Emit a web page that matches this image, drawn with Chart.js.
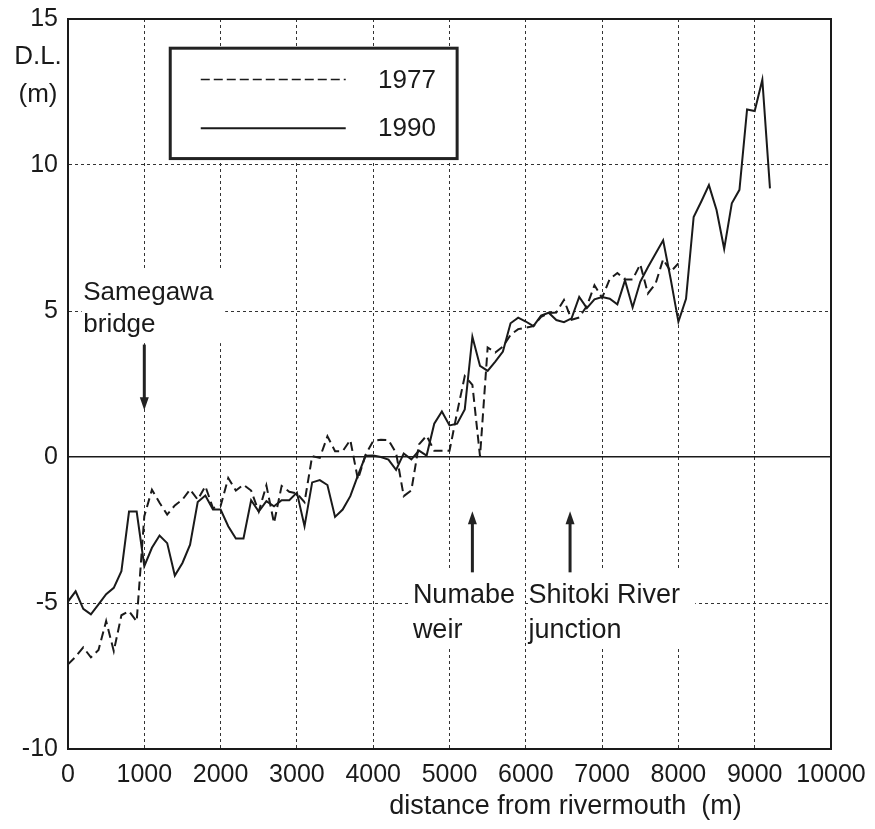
<!DOCTYPE html>
<html><head><meta charset="utf-8">
<script src="https://cdn.jsdelivr.net/npm/chart.js@4/dist/chart.umd.min.js"></script>
<style>html,body{margin:0;padding:0;background:#fff;}#wrap{width:875px;height:829px;}</style>
</head><body><div id="wrap"><canvas id="c" width="875" height="829"></canvas></div>
<script>
// distance from rivermouth (m)
const distances = [0,100,200,300,400,500,600,700,800,900,1000,1100,1200,1300,1400,1500,1600,1700,1800,1900,
2000,2100,2200,2300,2400,2500,2600,2700,2800,2900,3000,3100,3200,3300,3400,3500,3600,3700,3800,3900,
4000,4100,4200,4300,4400,4500,4600,4700,4800,4900,5000,5100,5200,5300,5400,5500,5600,5700,5800,5900,
6000,6100,6200,6300,6400,6500,6600,6700,6800,6900,7000,7100,7200,7300,7400,7500,7600,7700,7800,7900,
8000,8100,8200,8300,8400,8500,8600,8700,8800,8900,9000,9100,9200];
// riverbed elevation D.L. (m), 1977 survey (dashed)
const elev1977 = [-7.1,-6.84,-6.52,-6.86,-6.61,-5.62,-6.65,-5.42,-5.28,-5.63,
-2.03,-1.12,-1.57,-1.97,-1.66,-1.46,-1.11,-1.46,-1.0,-1.75,
-1.68,-0.72,-1.15,-0.95,-1.15,-1.87,-0.97,-2.26,-0.99,-1.19,
-1.25,-1.55,0.03,-0.03,0.71,0.2,0.2,0.58,-0.77,0.08,
0.55,0.59,0.58,0.14,-1.34,-1.14,0.43,0.73,0.21,0.21,
0.21,1.53,2.77,2.47,0.02,3.75,3.58,3.78,4.18,4.38,
4.43,4.48,4.8,4.93,4.95,5.38,4.7,4.78,5.17,5.88,
5.45,6.1,6.3,6.08,6.08,6.6,5.6,5.93,6.77,6.35,6.63];
// riverbed elevation D.L. (m), 1990 survey (solid)
const elev1990 = [-4.95,-4.6,-5.2,-5.39,-5.05,-4.7,-4.48,-3.91,-1.87,-1.87,
-3.74,-3.11,-2.69,-2.95,-4.06,-3.63,-3.0,-1.54,-1.32,-1.8,
-1.8,-2.37,-2.79,-2.79,-1.48,-1.87,-1.51,-1.69,-1.48,-1.48,
-1.22,-2.37,-0.87,-0.79,-0.96,-2.05,-1.8,-1.34,-0.63,0.04,
0.05,0.0,-0.09,-0.44,0.12,-0.08,0.22,0.05,1.14,1.56,
1.08,1.14,1.63,4.12,3.12,2.95,3.27,3.61,4.58,4.77,
4.64,4.48,4.84,4.94,4.69,4.62,4.75,5.48,5.1,5.4,
5.48,5.42,5.23,6.05,5.12,6.0,6.5,6.96,7.42,6.08,
4.63,5.42,8.22,8.75,9.31,8.46,7.13,8.69,9.15,11.9,
11.85,12.92,9.2];
const seriesNames = ['1977','1990'];
const xTicks = [0,1000,2000,3000,4000,5000,6000,7000,8000,9000,10000];
const yTicks = [-10,-5,0,5,10,15];

const FONT = '"Liberation Sans", Arial, Helvetica, sans-serif';
const INK = '#1a1a1a';

function pts(vals){ return vals.map((v,i)=>({x:distances[i], y:v})); }

const deco = {
  id:'deco',
  beforeDatasetsDraw(chart){
    const {ctx, chartArea:a, scales:{x,y}} = chart;
    ctx.save();
    // frame
    ctx.strokeStyle = INK; ctx.lineWidth = 2; ctx.setLineDash([]);
    ctx.strokeRect(a.left, a.top, a.right-a.left, a.bottom-a.top);
    // white label boxes
    ctx.fillStyle = '#fff';
    const box=(d1,v1,d2,v2)=>{const X1=x.getPixelForValue(d1),X2=x.getPixelForValue(d2),Y1=y.getPixelForValue(v1),Y2=y.getPixelForValue(v2);ctx.fillRect(X1,Y1,X2-X1,Y2-Y1);return [X1,Y1,X2,Y2];};
    box(180,6.45,2060,3.9);
    box(4480,-3.9,5985,-6.5);
    box(6030,-3.9,8220,-6.5);
    // legend
    const L = box(1340,14,5100,10.22);
    ctx.strokeStyle = '#222'; ctx.lineWidth = 3;
    ctx.strokeRect(L[0],L[1],L[2]-L[0],L[3]-L[1]);
    const ds = chart.data.datasets;
    const rows=[12.93,11.26];
    ctx.font = '26px '+FONT; ctx.fillStyle = INK; ctx.textBaseline='middle'; ctx.textAlign='left';
    rows.forEach((v,i)=>{
      const yy=y.getPixelForValue(v);
      ctx.beginPath(); ctx.lineWidth = i===0?1.6:2; ctx.strokeStyle=INK;
      ctx.setLineDash(i===0?[9,4]:[]);
      ctx.moveTo(x.getPixelForValue(1740),yy); ctx.lineTo(x.getPixelForValue(3640),yy); ctx.stroke();
      ctx.setLineDash([]);
      ctx.fillText(ds[i].label, x.getPixelForValue(4063), yy+1);
    });
    // texts
    ctx.font = '26px '+FONT; ctx.textBaseline='alphabetic';
    ctx.fillText('Samegawa', x.getPixelForValue(200), y.getPixelForValue(5.38));
    ctx.fillText('bridge', x.getPixelForValue(200), y.getPixelForValue(4.29));
    ctx.font = '27px '+FONT;
    ctx.fillText('Numabe', x.getPixelForValue(4520), y.getPixelForValue(-5.0));
    ctx.fillText('weir', x.getPixelForValue(4520), y.getPixelForValue(-6.19));
    ctx.fillText('Shitoki River', x.getPixelForValue(6035), y.getPixelForValue(-5.0));
    ctx.fillText('junction', x.getPixelForValue(6035), y.getPixelForValue(-6.19));
    // arrows
    const arrow=(d,vFrom,vTo)=>{
      const X=x.getPixelForValue(d),Y1=y.getPixelForValue(vFrom),Y2=y.getPixelForValue(vTo);
      const dir=Math.sign(Y2-Y1);
      ctx.strokeStyle='#222'; ctx.fillStyle='#222'; ctx.lineWidth=3;
      ctx.beginPath(); ctx.moveTo(X,Y1); ctx.lineTo(X,Y2-dir*10); ctx.stroke();
      ctx.beginPath(); ctx.moveTo(X,Y2); ctx.lineTo(X-4.5,Y2-dir*13); ctx.lineTo(X+4.5,Y2-dir*13); ctx.closePath(); ctx.fill();
    };
    arrow(1000,3.85,1.6);
    arrow(5300,-3.95,-1.86);
    arrow(6580,-3.95,-1.86);
    // axis unit label
    ctx.fillStyle=INK; ctx.font='26px '+FONT; ctx.textAlign='center'; ctx.textBaseline='middle';
    ctx.fillText('D.L.', a.left-30, y.getPixelForValue(13.69));
    ctx.fillText('(m)', a.left-30, y.getPixelForValue(12.39));
    ctx.font='27px '+FONT;
    ctx.fillText('distance from rivermouth  (m)', x.getPixelForValue(6520), a.bottom+58);
    ctx.restore();
  }
};

new Chart(document.getElementById('c'), {
  type:'line',
  data:{ datasets:[
    {label:seriesNames[0], data:pts(elev1977), borderColor:INK, borderWidth:2, borderDash:[9,5], pointRadius:0, tension:0, fill:false},
    {label:seriesNames[1], data:pts(elev1990), borderColor:INK, borderWidth:2, pointRadius:0, tension:0, fill:false}
  ]},
  options:{
    responsive:false, animation:false, devicePixelRatio:1,
    layout:{padding:{top:19,right:44,left:0,bottom:0}},
    plugins:{legend:{display:false}, tooltip:{enabled:false}},
    scales:{
      x:{type:'linear', min:0, max:10000,
        afterBuildTicks:s=>{s.ticks=xTicks.map(v=>({value:v}));},
        afterFit:s=>{s.height=80; s.paddingLeft=0; s.paddingRight=0;},
        ticks:{callback:v=>String(v), color:INK, font:{family:FONT,size:25}, padding:11, maxRotation:0, autoSkip:false},
        grid:{color:'#333', lineWidth:1, drawTicks:false},
        border:{display:true, color:INK, width:2, dash:[3,3]}
      },
      y:{type:'linear', min:-10, max:15,
        afterBuildTicks:s=>{s.ticks=yTicks.map(v=>({value:v}));},
        afterFit:s=>{s.width=68; s.paddingTop=0; s.paddingBottom=0;},
        ticks:{callback:v=>String(v), color:INK, font:{family:FONT,size:25}, padding:10},
        grid:{color:c=>(c.tick&&c.tick.value===0)?INK:'#333', lineWidth:c=>(c.tick&&c.tick.value===0)?1.6:1, drawTicks:false},
        border:{display:true, color:INK, width:2, dash:c=>(c.tick&&c.tick.value===0)?[]:[3,3]}
      }
    }
  },
  plugins:[deco]
});
</script></body></html>
